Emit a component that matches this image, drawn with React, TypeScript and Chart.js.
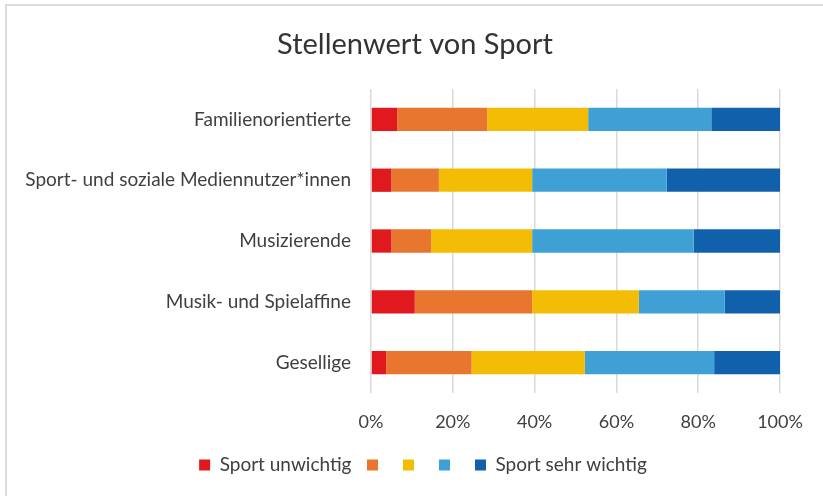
import React, { useEffect, useRef } from "react";
import { Chart, registerables } from "chart.js";

Chart.register(...registerables);

const categories = [
  "Familienorientierte",
  "Sport- und soziale Mediennutzer*innen",
  "Musizierende",
  "Musik- und Spielaffine",
  "Gesellige",
];
const seriesLabels = ["Sport unwichtig", "", "", "", "Sport sehr wichtig"];
const unwichtig = [6.4, 5.0, 5.0, 10.7, 3.7];
const stufe2 = [22.0, 11.6, 9.7, 28.7, 20.9];
const stufe3 = [24.7, 22.8, 24.7, 26.1, 27.7];
const stufe4 = [30.1, 32.9, 39.5, 21.0, 31.6];
const sehrWichtig = [16.8, 27.7, 21.1, 13.5, 16.1];
const seriesColors = ["#E0191E", "#E8762F", "#F4BD05", "#3FA0D6", "#1060AC"];
const xTicks = [0, 20, 40, 60, 80, 100];

const FONT = "Lato, 'Open Sans', sans-serif";

const legendShift = {
  id: "legendShift",
  afterLayout(chart: any) {
    if (chart.legend) {
      chart.legend.left += 8;
      chart.legend.right += 8;
    }
  },
};

export default function App() {
  const ref = useRef<HTMLCanvasElement | null>(null);

  useEffect(() => {
    if (!ref.current) return;
    const values = [unwichtig, stufe2, stufe3, stufe4, sehrWichtig];
    const chart = new Chart(ref.current, {
      type: "bar",
      data: {
        labels: categories,
        datasets: values.map((v, i) => ({
          label: seriesLabels[i],
          data: v,
          backgroundColor: seriesColors[i],
          borderWidth: 0,
          barPercentage: 0.383,
          categoryPercentage: 1,
        })),
      },
      options: {
        indexAxis: "y",
        responsive: false,
        animation: false,
        layout: { padding: { left: 7, right: 0, top: 0, bottom: 11.5 } },
        scales: {
          x: {
            stacked: true,
            min: 0,
            max: 100,
            afterBuildTicks: (scale: any) => {
              scale.ticks = xTicks.map((v) => ({ value: v }));
            },
            afterFit: (scale: any) => {
              scale.height = 47;
              scale.paddingRight = 43;
            },
            ticks: {
              callback: (v: any) => v + "%",
              color: "#404040",
              font: { family: FONT, size: 18 },
              padding: 18,
              maxRotation: 0,
            },
            grid: { color: "#d9d9d9", lineWidth: 1.5, drawTicks: false },
            border: { display: false },
          },
          y: {
            stacked: true,
            afterFit: (scale: any) => {
              scale.width = 364;
            },
            ticks: {
              color: "#404040",
              font: { family: FONT, size: 19 },
              padding: 20,
              autoSkip: false,
            },
            grid: { display: false, drawTicks: false },
            border: { display: false },
          },
        },
        plugins: {
          title: {
            display: true,
            text: "Stellenwert von Sport",
            color: "#333333",
            font: { family: FONT, size: 29, weight: "normal" },
            padding: { top: 27.2, bottom: 27 },
          },
          legend: {
            position: "bottom",
            labels: {
              boxWidth: 11,
              boxHeight: 11,
              padding: 15.5,
              color: "#404040",
              font: { family: FONT, size: 19 },
            },
          },
          tooltip: { enabled: false },
        },
      },
      plugins: [legendShift],
    });
    return () => chart.destroy();
  }, []);

  return (
    <div style={{ position: "fixed", left: 0, top: 0, width: 823, height: 496, background: "#fff", overflow: "hidden" }}>
      <div
        style={{
          position: "absolute",
          left: 5,
          top: 4,
          width: 900,
          height: 600,
          borderTop: "2px solid #dcdcdc",
          borderLeft: "2px solid #dcdcdc",
        }}
      />
      <canvas ref={ref} width={823} height={496} style={{ position: "absolute", left: 0, top: 0 }} />
    </div>
  );
}
